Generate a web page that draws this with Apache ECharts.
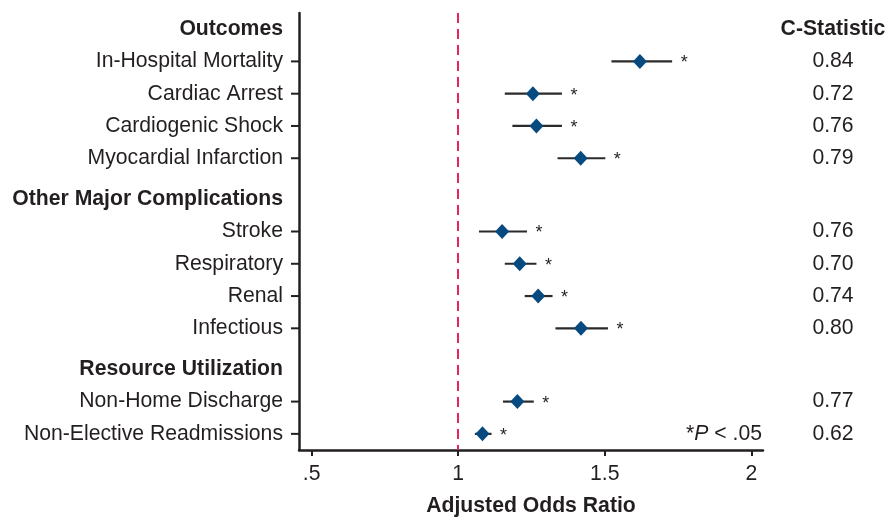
<!DOCTYPE html>
<html>
<head>
<meta charset="utf-8">
<script src="https://cdn.jsdelivr.net/npm/echarts@6/dist/echarts.min.js"></script>
<style>html,body{margin:0;padding:0;background:#fff}#chart{width:889px;height:517px}</style>
</head>
<body>
<div id="chart"></div>
<script>
// ---- data ----
const labels = ['Outcomes','In-Hospital Mortality','Cardiac Arrest','Cardiogenic Shock','Myocardial Infarction',
  'Other Major Complications','Stroke','Respiratory','Renal','Infectious',
  'Resource Utilization','Non-Home Discharge','Non-Elective Readmissions'];
const isHeader = [true,false,false,false,false,true,false,false,false,false,true,false,false];
const oddsRatio = [null,1.62,1.255,1.267,1.418,null,1.150,1.210,1.273,1.419,null,1.202,1.083];
const lowerCI   = [null,1.523,1.159,1.185,1.339,null,1.071,1.159,1.227,1.332,null,1.153,1.057];
const upperCI   = [null,1.730,1.354,1.354,1.502,null,1.235,1.267,1.322,1.511,null,1.258,1.114];
const significant = [null,true,true,true,true,null,true,true,true,true,null,true,true];
const cStatistic = [null,'0.84','0.72','0.76','0.79',null,'0.76','0.70','0.74','0.80',null,'0.77','0.62'];
const xTicks = [0.5,1,1.5,2];
const xTickLabels = ['.5','1','1.5','2'];
const cStatHeader = 'C-Statistic';
const xTitle = 'Adjusted Odds Ratio';
const refValue = 1;

// ---- layout helpers ----
const FONT = "'Liberation Sans', Arial, Helvetica, sans-serif";
const FS = 21.2;
const TXT = '#231f20';
const X_MIN = 0.457, X_MAX = 2.04;
const positions = [];
{
  let p = 0;
  labels.forEach((l, i) => {
    if (i > 0) p += 1 + (isHeader[i] ? 0.27 : 0);
    positions.push(p);
  });
}
const Y_MIN = -0.50, Y_MAX = 13.04;

const chart = echarts.init(document.getElementById('chart'), null, {renderer: 'canvas'});

const customData = labels.map((l, i) => [X_MIN, positions[i], i]);
const scatterData = [];
oddsRatio.forEach((v, i) => { if (v != null) scatterData.push([v, positions[i]]); });

function renderRow(params, api) {
  const i = api.value(2);
  const pos = positions[i];
  const left = api.coord([X_MIN, pos]);
  const right = api.coord([X_MAX, pos]);
  const y = left[1];
  const children = [];
  children.push({
    type: 'text',
    style: {
      x: left[0] - 16, y: y, text: labels[i], align: 'right', verticalAlign: 'middle',
      font: (isHeader[i] ? 'bold ' : '') + FS + 'px ' + FONT, fill: TXT
    }
  });
  if (i === 0) {
    children.push({
      type: 'text',
      style: { x: right[0] + 70, y: y, text: cStatHeader, align: 'center', verticalAlign: 'middle',
        font: 'bold ' + FS + 'px ' + FONT, fill: TXT }
    });
  }
  if (!isHeader[i]) {
    children.push({ type: 'line', shape: { x1: left[0] - 8, y1: y, x2: left[0], y2: y },
      style: { stroke: TXT, lineWidth: 2 } });
    const lo = api.coord([lowerCI[i], pos]);
    const hi = api.coord([upperCI[i], pos]);
    children.push({ type: 'line', shape: { x1: lo[0], y1: y, x2: hi[0], y2: y },
      style: { stroke: '#2a2a2a', lineWidth: 2.2 } });
    if (significant[i]) {
      children.push({ type: 'text', style: { x: hi[0] + 12, y: y + 2, text: '*', align: 'center',
        verticalAlign: 'middle', font: '18px ' + FONT, fill: TXT } });
    }
    children.push({ type: 'text', style: { x: right[0] + 70, y: y, text: cStatistic[i], align: 'center',
      verticalAlign: 'middle', font: FS + 'px ' + FONT, fill: TXT } });
  }
  if (i === labels.length - 1) {
    children.push({ type: 'text', style: { x: right[0] - 1, y: y, text: '{n|*}{i|P}{n| < .05}',
      align: 'right', verticalAlign: 'middle', fill: TXT,
      rich: { n: { font: FS + 'px ' + FONT, fill: TXT }, i: { font: 'italic ' + FS + 'px ' + FONT, fill: TXT } } } });
  }
  return { type: 'group', children: children };
}

chart.setOption({
  animation: false,
  backgroundColor: '#fff',
  grid: { left: 299, right: 126, top: 13, bottom: 67, containLabel: false, outerBoundsMode: 'none' },
  xAxis: {
    type: 'value', min: X_MIN, max: X_MAX,
    name: xTitle, nameLocation: 'middle', nameGap: 46,
    nameTextStyle: { fontFamily: FONT, fontWeight: 'bold', fontSize: FS, color: TXT },
    axisLine: { show: true, onZero: false, lineStyle: { color: TXT, width: 2.5 } },
    axisTick: { show: true, customValues: xTicks, length: 6, lineStyle: { color: TXT, width: 2 } },
    axisLabel: { show: true, customValues: xTicks, margin: 14, fontFamily: FONT, fontSize: FS, color: TXT,
      formatter: v => { const k = xTicks.findIndex(t => Math.abs(t - v) < 1e-9); return k >= 0 ? xTickLabels[k] : ''; } },
    splitLine: { show: false }
  },
  yAxis: {
    type: 'value', inverse: true, min: Y_MIN, max: Y_MAX,
    axisLine: { show: true, onZero: false, lineStyle: { color: TXT, width: 2.5 } },
    axisTick: { show: false }, axisLabel: { show: false }, splitLine: { show: false }
  },
  series: [
    {
      type: 'custom', renderItem: renderRow, data: customData, clip: false,
      encode: { x: 0, y: 1 }, silent: true, z: 2
    },
    {
      type: 'scatter', data: scatterData, symbol: 'diamond', symbolSize: [14, 15],
      itemStyle: { color: '#074a80', opacity: 1 }, z: 5, silent: true,
      markLine: {
        silent: true, symbol: 'none', label: { show: false },
        lineStyle: { color: '#e2285a', width: 2, type: [10, 6] },
        data: [{ xAxis: refValue }]
      }
    }
  ]
});
</script>
</body>
</html>
